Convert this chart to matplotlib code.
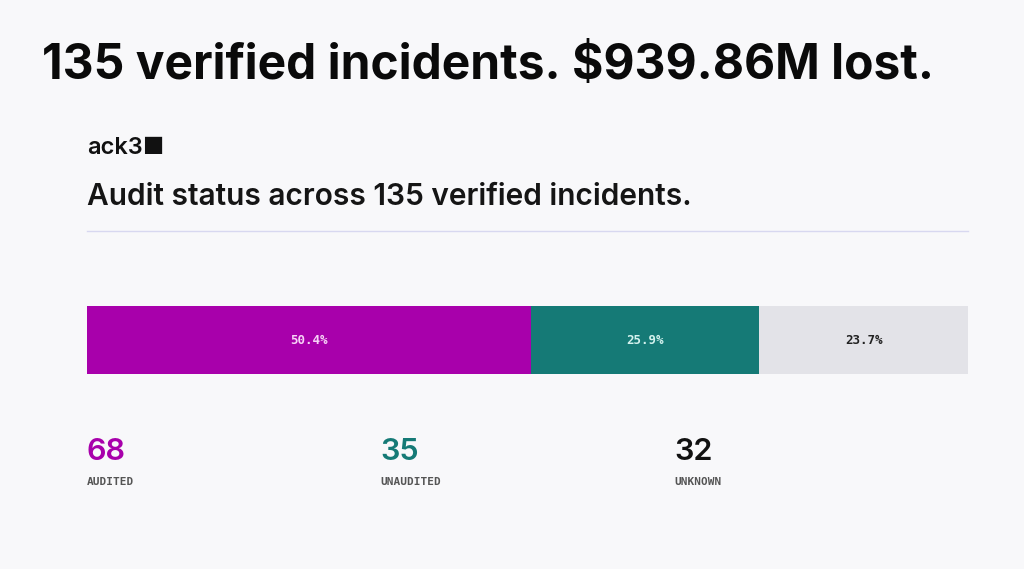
import matplotlib.pyplot as plt

categories = ['AUDITED', 'UNAUDITED', 'UNKNOWN']
counts = [68, 35, 32]
colors = ['#a800ab', '#157a76', '#e3e3e8']
pct_colors = ['#f6d2f6', '#d4f2ee', '#222222']
num_colors = ['#a800ab', '#157a76', '#111111']

total = sum(counts)
shares = [c / total * 100 for c in counts]

bg = '#f8f8fa'
fig = plt.figure(figsize=(10.24, 5.69), dpi=100, facecolor=bg)

# headline
fig.text(42 / 1024, 1 - 66 / 569, f'{total} verified incidents. $939.86M lost.',
         fontsize=34.5, fontweight='bold', family='Inter', color='#0a0a0a',
         va='center', ha='left')

# logo
fig.text(87 / 1024, 1 - 148 / 569, 'ack3\u25a0', fontsize=17, family='Inter',
         fontweight='semibold', color='#111111', va='center', ha='left')

# subtitle
fig.text(87 / 1024, 1 - 197 / 569, f'Audit status across {total} verified incidents.',
         fontsize=21.5, fontweight='semibold', family='Inter', color='#151515',
         va='center', ha='left')

# separator line
fig.add_artist(plt.Line2D([87 / 1024, 968 / 1024], [1 - 231 / 569, 1 - 231 / 569],
                          color='#d8d8f0', lw=1))

# stacked bar
ax = fig.add_axes([87 / 1024, 1 - 374 / 569, 881 / 1024, 68 / 569])
ax.set_facecolor(bg)
left = 0
for share, col, tcol in zip(shares, colors, pct_colors):
    ax.barh(0, share, left=left, height=1, color=col, edgecolor='none')
    ax.text(left + share / 2, 0, f'{share:.1f}%', ha='center', va='center',
            fontsize=9, family='DejaVu Sans Mono', fontweight='bold', color=tcol)
    left += share
ax.set_xlim(0, 100)
ax.set_ylim(-0.5, 0.5)
ax.axis('off')

# counts below the bar
for i, (cat, cnt, ncol) in enumerate(zip(categories, counts, num_colors)):
    x = i / 3
    ax.text(x, -1.15, str(cnt), transform=ax.transAxes,
            fontsize=22, family='Inter', fontweight='semibold', color=ncol,
            ha='left', va='center')
    ax.text(x, -1.59, cat, transform=ax.transAxes, fontsize=8,
            family='DejaVu Sans Mono', fontweight='bold', color='#555555',
            ha='left', va='center')

fig.savefig('out.png', dpi=100, facecolor=bg)
